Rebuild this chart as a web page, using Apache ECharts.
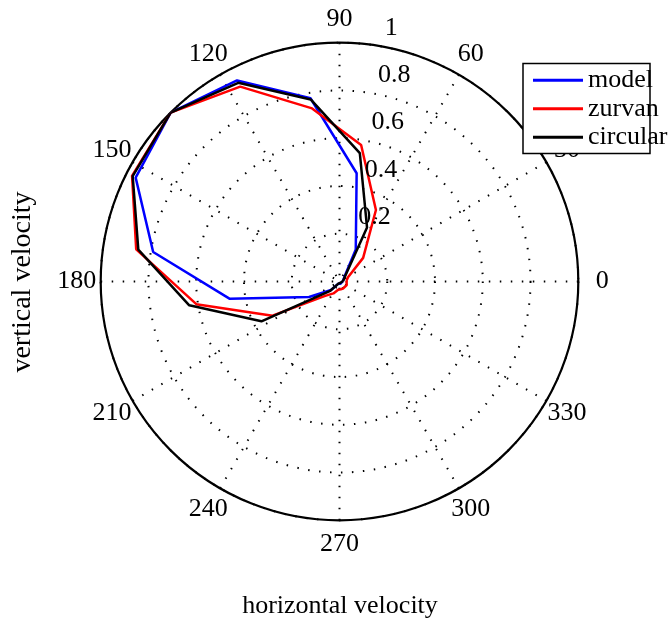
<!DOCTYPE html>
<html>
<head>
<meta charset="utf-8">
<script src="https://cdn.jsdelivr.net/npm/echarts@6/dist/echarts.min.js"></script>
<style>
  html, body { margin: 0; padding: 0; background: #fff; }
  #chart { width: 672px; height: 624px; }
</style>
</head>
<body>
<div id="chart"></div>
<script>
  // bin centres (degrees) and normalised radii for each curve
  var ANGLES = [9, 27, 45, 63, 81, 99, 117, 135, 153, 171, 189, 207, 225, 243, 261, 279, 297, 315, 333, 351];
  var MODEL = [0.015, 0.017, 0.03, 0.15, 0.459, 0.777, 0.945, 1.0, 0.958, 0.79, 0.465, 0.143, 0.05, 0.01, 0.01, 0.01, 0.01, 0.01, 0.01, 0.012];
  var ZURVAN = [0.03, 0.04, 0.14, 0.336, 0.579, 0.734, 0.916, 1.0, 0.975, 0.862, 0.607, 0.315, 0.085, 0.056, 0.035, 0.033, 0.033, 0.033, 0.034, 0.03];
  var CIRCULAR = [0.015, 0.02, 0.035, 0.254, 0.544, 0.772, 0.934, 1.0, 0.972, 0.853, 0.637, 0.367, 0.055, 0.01, 0.005, 0.005, 0.005, 0.005, 0.008, 0.012];

  var ANGLE_TICKS = [0, 30, 60, 90, 120, 150, 180, 210, 240, 270, 300, 330];
  var RING_TICKS = [0.2, 0.4, 0.6, 0.8, 1];
  var RING_LABELS = ["0.2", "0.4", "0.6", "0.8", "1"];
  var RING_LABEL_ANGLE = 82;

  var FONT = "Liberation Serif";
  var FS = 26;

  function closedLoop(values) {
    var pts = ANGLES.map(function (a, i) { return [values[i], a]; });
    pts.push(pts[0]);
    return pts;
  }

  function curve(name, values, color) {
    return {
      name: name,
      type: "line",
      coordinateSystem: "polar",
      data: closedLoop(values),
      symbol: "none",
      smooth: false,
      lineStyle: { color: color, width: 2.5 },
      itemStyle: { color: color },
      z: 3
    };
  }

  var dotted = { color: "#000", width: 2, type: [1.5, 9.5] };

  var chart = echarts.init(document.getElementById("chart"), null, { renderer: "canvas" });

  chart.setOption({
    animation: false,
    backgroundColor: "#ffffff",
    polar: {
      center: [339.5, 281.5],
      radius: 238.8
    },
    angleAxis: {
      type: "value",
      min: 0,
      max: 360,
      interval: 30,
      startAngle: 0,
      clockwise: false,
      axisLine: { show: true, lineStyle: { color: "#000", width: 2.2 } },
      axisTick: { show: false },
      axisLabel: { show: false },
      splitLine: { show: true, lineStyle: dotted }
    },
    radiusAxis: {
      type: "value",
      min: 0,
      max: 1,
      interval: 0.2,
      axisLine: { show: false },
      axisTick: { show: false },
      axisLabel: { show: false },
      splitLine: { show: true, lineStyle: dotted }
    },
    legend: {
      orient: "vertical",
      left: 533,
      top: 66,
      padding: 0,
      itemGap: 0,
      itemWidth: 50,
      itemHeight: 3,
      icon: "rect",
      data: ["model", "zurvan", "circular"],
      textStyle: { fontFamily: FONT, fontSize: FS, color: "#000", lineHeight: 28.5 },
      z: 10
    },
    graphic: [
      {
        type: "rect",
        z: 9,
        shape: { x: 523, y: 63.5, width: 127, height: 90 },
        style: { fill: "#fff", stroke: "#000", lineWidth: 1.5 }
      },
      {
        type: "text",
        x: 340, y: 606,
        style: { text: "horizontal velocity", font: FS + "px '" + FONT + "'", fill: "#000", textAlign: "center", textVerticalAlign: "middle" }
      },
      {
        type: "text",
        x: 23, y: 282,
        rotation: Math.PI / 2,
        style: { text: "vertical velocity", font: "28px '" + FONT + "'", fill: "#000", textAlign: "center", textVerticalAlign: "middle" }
      }
    ],
    series: [
      curve("model", MODEL, "#0000ff"),
      curve("zurvan", ZURVAN, "#ff0000"),
      curve("circular", CIRCULAR, "#000000"),
      {
        name: "angleTicks",
        type: "scatter",
        coordinateSystem: "polar",
        clip: false,
        silent: true,
        symbolSize: 0,
        itemStyle: { opacity: 1 },
        data: ANGLE_TICKS.map(function (a) { return [1.1, a]; }),
        label: {
          show: true,
          position: "inside",
          formatter: function (p) { return String(ANGLE_TICKS[p.dataIndex]); },
          fontFamily: FONT, fontSize: FS, color: "#000",
          textBorderWidth: 0,
          align: "center", verticalAlign: "middle"
        }
      },
      {
        name: "ringTicks",
        type: "scatter",
        coordinateSystem: "polar",
        clip: false,
        silent: true,
        symbolSize: 0,
        itemStyle: { opacity: 1 },
        data: RING_TICKS.map(function (r) { return [r, RING_LABEL_ANGLE]; }),
        label: {
          show: true,
          position: "inside",
          offset: [12, -4],
          formatter: function (p) { return RING_LABELS[p.dataIndex]; },
          fontFamily: FONT, fontSize: FS, color: "#000",
          textBorderWidth: 0,
          align: "left", verticalAlign: "bottom"
        },
        z: 4
      }
    ]
  });
</script>
</body>
</html>
